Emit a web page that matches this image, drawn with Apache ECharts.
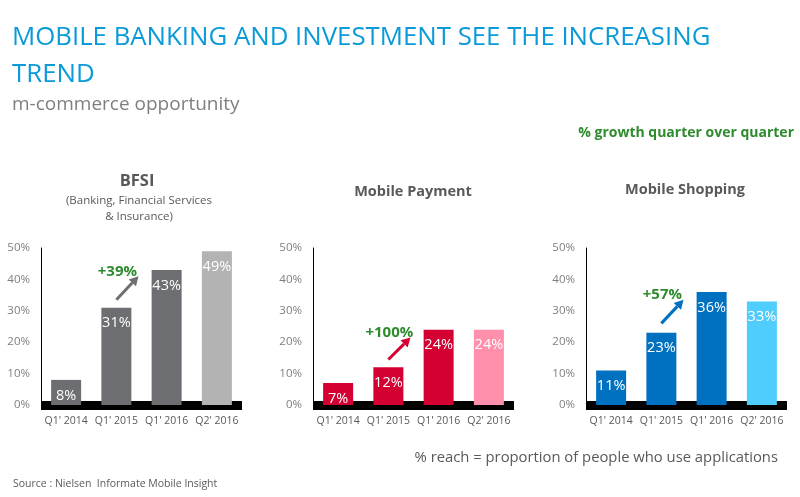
<!DOCTYPE html>
<html><head><meta charset="utf-8">
<script src="https://cdn.jsdelivr.net/npm/echarts@6/dist/echarts.min.js"></script>
<style>html,body{margin:0;padding:0;background:#fff}#c{width:800px;height:497px}</style>
</head><body><div id="c"></div>
<script>
const categories = ["Q1' 2014", "Q1' 2015", "Q1' 2016", "Q2' 2016"];
const bfsiValues = [8, 31, 43, 49];
const paymentValues = [7, 12, 24, 24];
const shoppingValues = [11, 23, 36, 33];
const yTicks = [0, 10, 20, 30, 40, 50];
const panelTitles = ["BFSI", "Mobile Payment", "Mobile Shopping"];
const growthLabels = ["+39%", "+100%", "+57%"];

const FONT = "'Open Sans', sans-serif";
const panels = [
  {vals: bfsiValues, colors: ['#6d6e71','#6d6e71','#6d6e71','#b3b3b3'], left: 41, arrow: '#6d6e71', a0: 33.5, a1: 41},
  {vals: paymentValues, colors: ['#d50032','#d50032','#d50032','#ff8fab'], left: 313, arrow: '#d50032', a0: 14.5, a1: 21.5},
  {vals: shoppingValues, colors: ['#0070c0','#0070c0','#0070c0','#4fcdfc'], left: 586, arrow: '#0070c0', a0: 26, a1: 33.5}
];
const chart = echarts.init(document.getElementById('c'));
const grids = [], xAxes = [], yAxes = [], series = [];
panels.forEach((p, i) => {
  grids.push({left: p.left, width: 201, top: 248, bottom: 92});
  xAxes.push({type: 'category', gridIndex: i, data: categories,
    axisLine: {lineStyle: {color: '#000', width: 9, cap: 'butt'}}, axisTick: {show: false},
    axisLabel: {color: '#595959', fontSize: 10.5, fontFamily: FONT, margin: 11, interval: 0}});
  yAxes.push({type: 'value', gridIndex: i, min: 0, max: 50, interval: 10,
    axisLine: {show: true, lineStyle: {color: '#000', width: 1}}, axisTick: {show: false},
    splitLine: {show: false},
    axisLabel: {color: '#7f7f7f', fontSize: 11.5, fontFamily: FONT, margin: 11, formatter: v => v + '%'}});
  series.push({type: 'bar', xAxisIndex: i, yAxisIndex: i, barWidth: 30,
    data: p.vals.map((v, k) => ({value: v, itemStyle: {color: p.colors[k]}})),
    label: {show: true, position: 'insideTop', distance: 8, color: '#fff', fontSize: 14.5, fontFamily: FONT, formatter: '{c}%'}});
});
chart.setOption({
  animation: false,
  grid: grids, xAxis: xAxes, yAxis: yAxes, series: series,
  title: [
    {text: 'MOBILE BANKING AND INVESTMENT SEE THE INCREASING\nTREND', left: 7, top: 14,
      textStyle: {color: '#0a9ad8', fontSize: 25.8, fontWeight: 'normal', fontFamily: FONT, lineHeight: 37}},
    {text: 'm-commerce opportunity', left: 7, top: 90,
      textStyle: {color: '#7f7f7f', fontSize: 19, fontWeight: 'normal', fontFamily: FONT}},
    {text: '% growth quarter over quarter', right: 1, top: 121,
      textStyle: {color: '#2e8b2e', fontSize: 14, fontWeight: 'bold', fontFamily: FONT}},
    {text: panelTitles[0], left: 132, top: 168, textAlign: 'center',
      textStyle: {color: '#595959', fontSize: 16.5, fontWeight: 'bold', fontFamily: FONT}},
    {text: '(Banking, Financial Services\n& Insurance)', left: 134, top: 188, textAlign: 'center',
      textStyle: {color: '#595959', fontSize: 11.5, fontWeight: 'normal', fontFamily: FONT, lineHeight: 16}},
    {text: panelTitles[1], left: 408, top: 179, textAlign: 'center',
      textStyle: {color: '#595959', fontSize: 14.5, fontWeight: 'bold', fontFamily: FONT}},
    {text: panelTitles[2], left: 680, top: 177, textAlign: 'center',
      textStyle: {color: '#595959', fontSize: 14.5, fontWeight: 'bold', fontFamily: FONT}},
    {text: '% reach = proportion of people who use applications', right: 17, top: 445,
      textStyle: {color: '#595959', fontSize: 14.8, fontWeight: 'normal', fontFamily: FONT}},
    {text: 'Source : Nielsen  Informate Mobile Insight', left: 8, top: 474,
      textStyle: {color: '#595959', fontSize: 10.5, fontWeight: 'normal', fontFamily: FONT}}
  ]
});
// growth arrows, placed in data space of each panel
const graphics = [];
panels.forEach((p, i) => {
  const c1 = chart.convertToPixel({xAxisIndex: i}, categories[1]);
  const c2 = chart.convertToPixel({xAxisIndex: i}, categories[2]);
  const y0 = chart.convertToPixel({yAxisIndex: i}, p.a0);
  const y1 = chart.convertToPixel({yAxisIndex: i}, p.a1);
  const x0 = c1, x1 = c1 + (c2 - c1) * 0.44;
  const ang = Math.atan2(y1 - y0, x1 - x0);
  const hl = 9, hw = 5;
  const bx = x1 - hl * Math.cos(ang), by = y1 - hl * Math.sin(ang);
  const px = -Math.sin(ang) * hw, py = Math.cos(ang) * hw;
  graphics.push({type: 'line', shape: {x1: x0, y1: y0, x2: bx, y2: by}, style: {stroke: p.arrow, lineWidth: 3}});
  graphics.push({type: 'polygon', shape: {points: [[x1, y1], [bx + px, by + py], [bx - px, by - py]]}, style: {fill: p.arrow}});
  graphics.push({type: 'text', x: x0 + 1, y: y1 - 5, style: {text: growthLabels[i], fill: '#2e8b2e', font: "bold 15px 'Open Sans', sans-serif", textAlign: 'center', textVerticalAlign: 'middle'}});
});
chart.setOption({graphic: graphics});
</script></body></html>
